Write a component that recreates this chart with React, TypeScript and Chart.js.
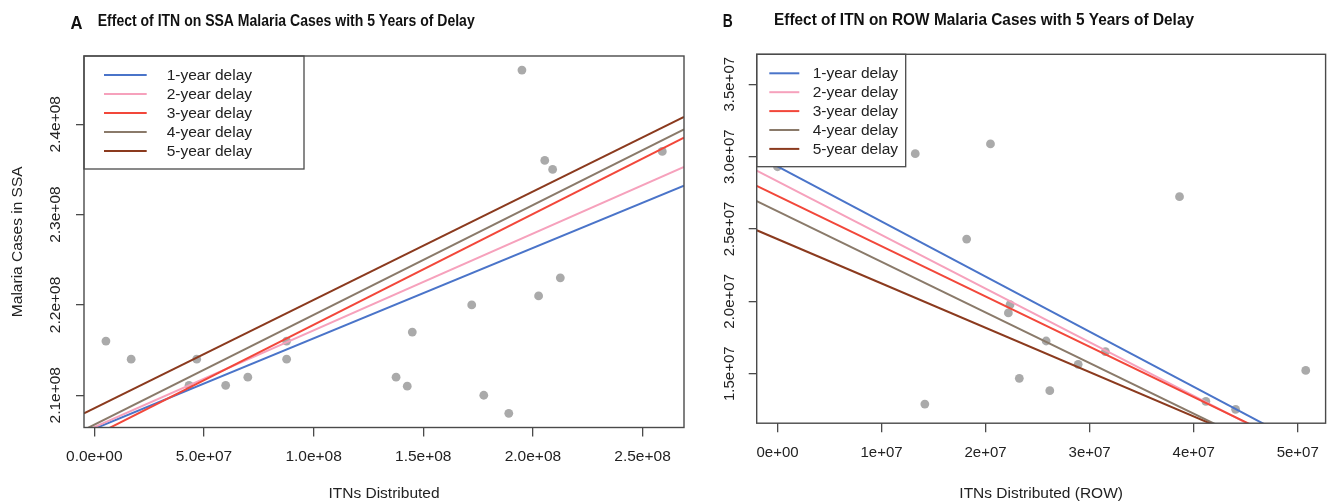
import React, { useEffect, useRef } from "react";
import { Chart, registerables } from "chart.js";

Chart.register(...registerables);

// ---------- shared ----------
const delayLabels = ["1-year delay", "2-year delay", "3-year delay", "4-year delay", "5-year delay"];
const delayColors = ["#4a74c9", "#f6a1bc", "#f2473a", "#8a7a6a", "#8b3a1e"];

// ---------- Panel A (SSA) ----------
const ssaItn = [5.3e6, 1.68e7, 4.32e7, 4.67e7, 5.99e7, 7.0e7, 8.77e7, 8.77e7, 1.376e8, 1.427e8, 1.45e8, 1.721e8, 1.776e8, 1.89e8, 1.95e8, 2.026e8, 2.054e8, 2.09e8, 2.125e8, 2.59e8];
const ssaCases = [2.16e8, 2.14e8, 2.111e8, 2.14e8, 2.111e8, 2.12e8, 2.16e8, 2.14e8, 2.12e8, 2.11e8, 2.17e8, 2.2e8, 2.1e8, 2.08e8, 2.46e8, 2.21e8, 2.36e8, 2.35e8, 2.23e8, 2.37e8];
const ssaIntercepts = [2.0629e8, 2.0647e8, 2.0553e8, 2.0674e8, 2.0855e8];
const ssaSlopes = [0.1001, 0.1071, 0.1227, 0.1216, 0.12];
const ssaXTicks = [0, 5e7, 1e8, 1.5e8, 2e8, 2.5e8];
const ssaXTickLabels = ["0.0e+00", "5.0e+07", "1.0e+08", "1.5e+08", "2.0e+08", "2.5e+08"];
const ssaYTicks = [2.1e8, 2.2e8, 2.3e8, 2.4e8];
const ssaYTickLabels = ["2.1e+08", "2.2e+08", "2.3e+08", "2.4e+08"];

// ---------- Panel B (ROW) ----------
const rowItn = [0, 1.324e7, 1.416e7, 1.818e7, 2.047e7, 2.219e7, 2.235e7, 2.324e7, 2.582e7, 2.617e7, 2.89e7, 3.152e7, 3.864e7, 4.117e7, 4.403e7, 5.077e7];
const rowCases = [2.93e7, 3.02e7, 1.29e7, 2.43e7, 3.088e7, 1.92e7, 1.977e7, 1.468e7, 1.726e7, 1.383e7, 1.565e7, 1.652e7, 2.723e7, 1.309e7, 1.254e7, 1.523e7];
const rowIntercepts = [2.932e7, 2.829e7, 2.728e7, 2.622e7, 2.43e7];
const rowSlopes = [-0.3806, -0.3705, -0.3473, -0.3495, -0.3063];
const rowXTicks = [0, 1e7, 2e7, 3e7, 4e7, 5e7];
const rowXTickLabels = ["0e+00", "1e+07", "2e+07", "3e+07", "4e+07", "5e+07"];
const rowYTicks = [1.5e7, 2e7, 2.5e7, 3e7, 3.5e7];
const rowYTickLabels = ["1.5e+07", "2.0e+07", "2.5e+07", "3.0e+07", "3.5e+07"];

const FONT = '"Liberation Sans", Arial, Helvetica, sans-serif';
const TEXT = "#222";
const AXIS = "#4a4a4a";

type Panel = {
  W: number;
  H: number;
  area: { left: number; top: number; right: number; bottom: number };
  xMin: number; xMax: number; yMin: number; yMax: number;
  xTicks: number[]; xTickLabels: string[];
  yTicks: number[]; yTickLabels: string[];
  itn: number[]; cases: number[];
  intercepts: number[]; slopes: number[];
  xTitle: string; yTitle: string | null;
  tickFont: number; xTickPad: number;
  yLabelX: number;
  legend: { w: number; h: number; x0: number; x1: number; tx: number; row0: number; step: number; font: number };
  title: { letter: string; letterX: number; letterBase: number; letterSize: number; letterW: number; text: string; textX: number; textBase: number; textSize: number; textW: number };
};

const panelA: Panel = {
  W: 700, H: 501,
  area: { left: 84, top: 56, right: 684, bottom: 427.5 },
  xMin: -4.7e6, xMax: 2.689e8, yMin: 2.0643e8, yMax: 2.4756e8,
  xTicks: ssaXTicks, xTickLabels: ssaXTickLabels,
  yTicks: ssaYTicks, yTickLabels: ssaYTickLabels,
  itn: ssaItn, cases: ssaCases,
  intercepts: ssaIntercepts, slopes: ssaSlopes,
  xTitle: "ITNs Distributed", yTitle: "Malaria Cases in SSA",
  tickFont: 15.5, xTickPad: 11,
  yLabelX: 55.3,
  legend: { w: 220, h: 113, x0: 20, x1: 62.7, tx: 82.7, row0: 19, step: 19, font: 15.5 },
  title: { letter: "A", letterX: 70.5, letterBase: 29, letterSize: 19, letterW: 12, text: "Effect of ITN on SSA Malaria Cases with 5 Years of Delay", textX: 97.7, textBase: 26.2, textSize: 16.5, textW: 377 },
};

const panelB: Panel = {
  W: 630, H: 501,
  area: { left: 56.7, top: 54.3, right: 629.3, bottom: 423.2 },
  xMin: -2.0e6, xMax: 5.268e7, yMin: 1.158e7, yMax: 3.707e7,
  xTicks: rowXTicks, xTickLabels: rowXTickLabels,
  yTicks: rowYTicks, yTickLabels: rowYTickLabels,
  itn: rowItn, cases: rowCases,
  intercepts: rowIntercepts, slopes: rowSlopes,
  xTitle: "ITNs Distributed (ROW)", yTitle: null,
  tickFont: 15, xTickPad: 12,
  yLabelX: 30,
  legend: { w: 149, h: 112.4, x0: 12.6, x1: 42.6, tx: 56, row0: 19, step: 18.9, font: 15.5 },
  title: { letter: "B", letterX: 22.8, letterBase: 26.8, letterSize: 17.5, letterW: 10, text: "Effect of ITN on ROW Malaria Cases with 5 Years of Delay", textX: 74, textBase: 24.5, textSize: 16.5, textW: 420 },
};

function drawScaledText(ctx: CanvasRenderingContext2D, text: string, x: number, base: number, size: number, targetW: number) {
  ctx.save();
  ctx.font = `bold ${size}px ${FONT}`;
  ctx.textAlign = "left";
  ctx.textBaseline = "alphabetic";
  ctx.fillStyle = "#111";
  const w = ctx.measureText(text).width;
  ctx.translate(x, base);
  ctx.scale(targetW / w, 1);
  ctx.fillText(text, 0, 0);
  ctx.restore();
}

function makePlugin(p: Panel) {
  return {
    id: "panelDecor",
    afterDatasetsDraw(chart: any) {
      const ctx: CanvasRenderingContext2D = chart.ctx;
      const a = chart.chartArea;
      const L = p.legend;
      ctx.save();
      ctx.fillStyle = "#fff";
      ctx.fillRect(a.left, a.top, L.w, L.h);
      ctx.strokeStyle = AXIS;
      ctx.lineWidth = 1.3;
      ctx.strokeRect(a.left, a.top, L.w, L.h);
      const fits = chart.data.datasets.filter((d: any) => d.isFit);
      fits.forEach((d: any, i: number) => {
        const y = a.top + L.row0 + i * L.step;
        ctx.strokeStyle = d.borderColor;
        ctx.lineWidth = 2;
        ctx.beginPath();
        ctx.moveTo(a.left + L.x0, y);
        ctx.lineTo(a.left + L.x1, y);
        ctx.stroke();
        ctx.fillStyle = TEXT;
        ctx.font = `${L.font}px ${FONT}`;
        ctx.textAlign = "left";
        ctx.textBaseline = "middle";
        ctx.fillText(d.label, a.left + L.tx, y + 0.5);
      });
      ctx.strokeStyle = AXIS;
      ctx.lineWidth = 1.4;
      ctx.strokeRect(a.left, a.top, a.right - a.left, a.bottom - a.top);
      ctx.restore();
    },
    afterDraw(chart: any) {
      const ctx: CanvasRenderingContext2D = chart.ctx;
      const ys = chart.scales.y;
      ctx.save();
      ctx.fillStyle = TEXT;
      ctx.font = `${p.tickFont}px ${FONT}`;
      ctx.textAlign = "center";
      ctx.textBaseline = "middle";
      ys.ticks.forEach((t: any) => {
        const idx = p.yTicks.indexOf(t.value);
        const py = ys.getPixelForValue(t.value);
        ctx.save();
        ctx.translate(p.yLabelX, py);
        ctx.rotate(-Math.PI / 2);
        ctx.fillText(p.yTickLabels[idx], 0, 0);
        ctx.restore();
      });
      ctx.restore();
      const T = p.title;
      drawScaledText(ctx, T.letter, T.letterX, T.letterBase, T.letterSize, T.letterW);
      drawScaledText(ctx, T.text, T.textX, T.textBase, T.textSize, T.textW);
    },
  };
}

function buildConfig(p: Panel): any {
  const fitSets = delayLabels.map((label, i) => ({
    label,
    isFit: true,
    data: [
      { x: p.xMin, y: p.intercepts[i] + p.slopes[i] * p.xMin },
      { x: p.xMax, y: p.intercepts[i] + p.slopes[i] * p.xMax },
    ],
    showLine: true,
    borderColor: delayColors[i],
    backgroundColor: delayColors[i],
    borderWidth: 2,
    pointRadius: 0,
    order: 5 - i,
    clip: 0,
  }));
  const pointSet = {
    label: "observed",
    isFit: false,
    data: p.itn.map((x, i) => ({ x, y: p.cases[i] })),
    showLine: false,
    pointRadius: 4.4,
    pointBackgroundColor: "#aaaaaa",
    pointBorderWidth: 0,
    pointBorderColor: "#aaaaaa",
    order: 10,
  };
  return {
    type: "scatter",
    data: { datasets: [...fitSets, pointSet] },
    options: {
      animation: false,
      responsive: false,
      devicePixelRatio: 1,
      events: [],
      layout: { padding: { left: 0, top: p.area.top, right: p.W - p.area.right, bottom: 0 } },
      plugins: { legend: { display: false }, tooltip: { enabled: false }, title: { display: false } },
      scales: {
        x: {
          type: "linear",
          min: p.xMin,
          max: p.xMax,
          afterBuildTicks: (s: any) => { s.ticks = p.xTicks.map((v) => ({ value: v })); },
          afterFit: (s: any) => { s.height = p.H - p.area.bottom; s.paddingLeft = 0; s.paddingRight = 0; },
          ticks: {
            callback: (_v: any, i: number) => p.xTickLabels[i],
            font: { size: p.tickFont, family: FONT },
            color: TEXT,
            padding: p.xTickPad,
            maxRotation: 0,
            minRotation: 0,
            autoSkip: false,
          },
          grid: { drawOnChartArea: false, drawTicks: true, tickLength: 9, color: AXIS, lineWidth: 1.3 },
          border: { display: false },
          title: { display: true, text: p.xTitle, font: { size: 15.5, family: FONT }, color: TEXT, padding: { top: 0, bottom: -2 } },
        },
        y: {
          type: "linear",
          min: p.yMin,
          max: p.yMax,
          afterBuildTicks: (s: any) => { s.ticks = p.yTicks.map((v) => ({ value: v })); },
          afterFit: (s: any) => { s.width = p.area.left; s.paddingTop = 0; s.paddingBottom = 0; },
          ticks: { display: false },
          grid: { drawOnChartArea: false, drawTicks: true, tickLength: 8, color: AXIS, lineWidth: 1.3 },
          border: { display: false },
          title: {
            display: !!p.yTitle,
            text: p.yTitle || "",
            font: { size: 15.5, family: FONT },
            color: TEXT,
            padding: { top: 8.7, bottom: 0 },
          },
        },
      },
    },
    plugins: [makePlugin(p)],
  };
}

function PanelChart({ p, left }: { p: Panel; left: number }) {
  const ref = useRef<HTMLCanvasElement | null>(null);
  useEffect(() => {
    if (!ref.current) return;
    const chart = new Chart(ref.current, buildConfig(p));
    return () => chart.destroy();
  }, [p]);
  return (
    <canvas
      ref={ref}
      width={p.W}
      height={p.H}
      style={{ position: "absolute", left, top: 0, width: p.W, height: p.H }}
    />
  );
}

export default function App() {
  return (
    <div style={{ position: "absolute", left: 0, top: 0, width: 1330, height: 501, background: "#fff", overflow: "hidden" }}>
      <PanelChart p={panelA} left={0} />
      <PanelChart p={panelB} left={700} />
    </div>
  );
}
